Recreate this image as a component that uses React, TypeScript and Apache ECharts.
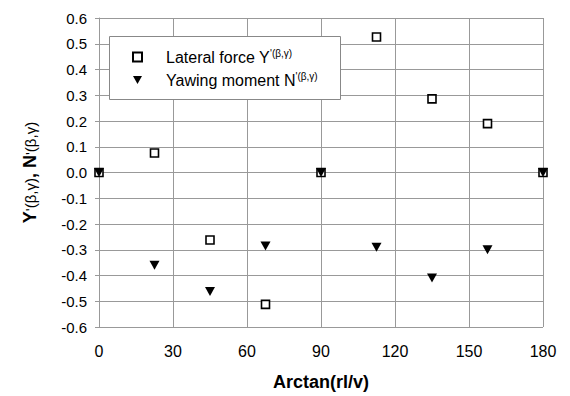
import React, { useEffect, useRef } from "react";
import * as echarts from "echarts";

const xValues = [0, 22.5, 45, 67.5, 90, 112.5, 135, 157.5, 180];
const lateralForce = [0, 0.076, -0.262, -0.512, 0, 0.526, 0.286, 0.19, 0];
const yawingMoment = [0, -0.36, -0.462, -0.285, 0, -0.29, -0.41, -0.3, 0];
const lateralName = "Lateral force Y";
const yawingName = "Yawing moment N";

export default function App() {
  const ref = useRef<HTMLDivElement>(null);
  useEffect(() => {
    if (!ref.current) return;
    const chart = echarts.init(ref.current, null, { renderer: "svg" });
    const gray = "#999999";
    const font = "Arial, 'Liberation Sans', sans-serif";
    chart.setOption({
      animation: false,
      backgroundColor: "#ffffff",
      grid: { left: 99, right: 27, top: 18, bottom: 68 },
      xAxis: {
        type: "value",
        min: 0,
        max: 180,
        interval: 30,
        name: "Arctan(rl/v)",
        nameLocation: "middle",
        nameGap: 46,
        nameTextStyle: { fontFamily: font, fontSize: 18, fontWeight: "bold", color: "#000" },
        axisLine: { show: true, lineStyle: { color: gray, width: 1 } },
        axisTick: { show: true, length: 5, lineStyle: { color: gray } },
        axisLabel: { fontFamily: font, fontSize: 16, color: "#000", margin: 16 },
        splitLine: { show: true, lineStyle: { color: gray, width: 1 } },
      },
      yAxis: {
        type: "value",
        min: -0.6,
        max: 0.6,
        interval: 0.1,
        name: "{b|Y}{s|'(β,γ)}{b|, N}{s|'(β,γ)}",
        nameLocation: "middle",
        nameGap: 60,
        nameTextStyle: {
          fontFamily: font,
          color: "#000",
          rich: {
            b: { fontFamily: font, fontSize: 18, fontWeight: "bold", color: "#000" },
            s: { fontFamily: font, fontSize: 15, color: "#000" },
          },
        },
        axisLine: { show: true, lineStyle: { color: gray, width: 1 } },
        axisTick: { show: true, length: 4, lineStyle: { color: gray } },
        axisLabel: {
          fontFamily: font,
          fontSize: 15,
          color: "#000",
          margin: 12,
          formatter: (v: number) => v.toFixed(1),
        },
        splitLine: { show: true, lineStyle: { color: gray, width: 1 } },
      },
      legend: {
        orient: "vertical",
        left: 132,
        top: 48,
        padding: 0,
        itemGap: 6,
        itemWidth: 9,
        itemHeight: 9,
        z: 101,
        data: [lateralName, yawingName],
        formatter: (name: string) => "{n|" + name + "}{s|'(β,γ)}",
        textStyle: {
          fontFamily: font,
          color: "#000",
          padding: [0, 0, 0, 19],
          rich: {
            n: { fontFamily: font, fontSize: 16, lineHeight: 18, color: "#000" },
            s: { fontFamily: font, fontSize: 10, color: "#000", verticalAlign: "top" },
          },
        },
      },
      graphic: [
        {
          type: "rect",
          z: 100,
          shape: { x: 109.5, y: 36.5, width: 231, height: 63 },
          style: { fill: "#ffffff", stroke: "#888888", lineWidth: 1 },
        },
      ],
      series: [
        {
          name: lateralName,
          type: "scatter",
          data: xValues.map((x, i) => [x, lateralForce[i]]),
          symbol: "rect",
          symbolSize: 8,
          itemStyle: { color: "#ffffff", borderColor: "#000000", borderWidth: 1.6, opacity: 1 },
          z: 3,
        },
        {
          name: yawingName,
          type: "scatter",
          data: xValues.map((x, i) => [x, yawingMoment[i]]),
          symbol: "path://M0,0 L10,0 L5,9 Z",
          symbolSize: [10, 9],
          itemStyle: { color: "#000000", opacity: 1 },
          z: 4,
        },
      ],
    });
    return () => chart.dispose();
  }, []);
  return <div ref={ref} style={{ width: 570, height: 396, position: "absolute", left: 0, top: 0 }} />;
}
